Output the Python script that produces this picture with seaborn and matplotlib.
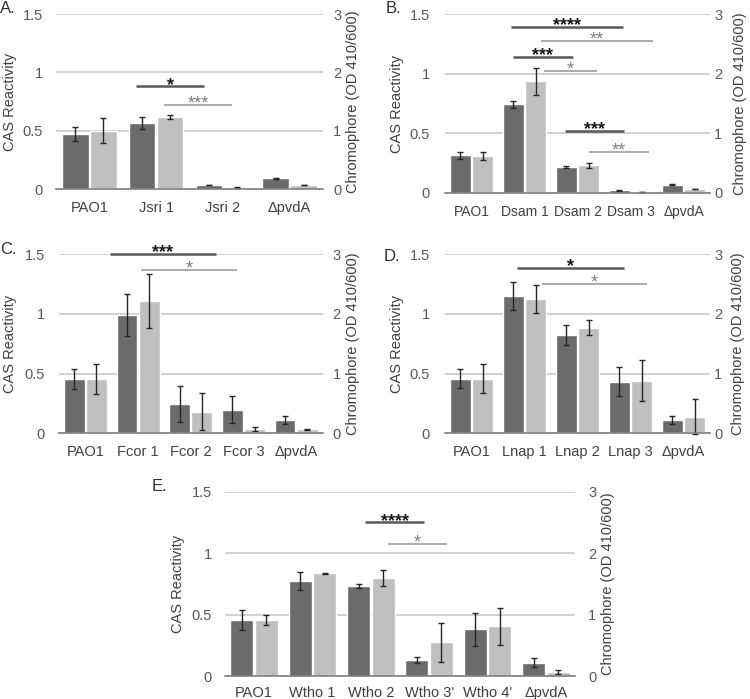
import pandas as pd
import seaborn as sns
import matplotlib.pyplot as plt

# Panel A
strains_a = ['PAO1', 'Jsri 1', 'Jsri 2', 'ΔpvdA']
cas_a = [0.471, 0.566, 0.037, 0.094]
cas_err_a = [0.060, 0.054, 0.004, 0.004]
chrom_a = [1.00, 1.24, 0.034, 0.074]
chrom_err_a = [0.215, 0.04, 0.01, 0.006]

# Panel B
strains_b = ['PAO1', 'Dsam 1', 'Dsam 2', 'Dsam 3', 'ΔpvdA']
cas_b = [0.314, 0.745, 0.216, 0.020, 0.067]
cas_err_b = [0.027, 0.030, 0.011, 0.003, 0.003]
chrom_b = [0.622, 1.87, 0.465, 0.011, 0.062]
chrom_err_b = [0.07, 0.22, 0.042, 0.002, 0.006]

# Panel C
strains_c = ['PAO1', 'Fcor 1', 'Fcor 2', 'Fcor 3', 'ΔpvdA']
cas_c = [0.456, 0.993, 0.246, 0.199, 0.109]
cas_err_c = [0.081, 0.176, 0.151, 0.112, 0.034]
chrom_c = [0.912, 2.22, 0.364, 0.078, 0.067]
chrom_err_c = [0.25, 0.456, 0.314, 0.034, 0.004]

# Panel D
strains_d = ['PAO1', 'Lnap 1', 'Lnap 2', 'Lnap 3', 'ΔpvdA']
cas_d = [0.459, 1.150, 0.825, 0.434, 0.112]
cas_err_d = [0.081, 0.120, 0.084, 0.123, 0.034]
chrom_d = [0.917, 2.249, 1.773, 0.884, 0.28]
chrom_err_d = [0.246, 0.232, 0.118, 0.347, 0.29]

# Panel E
strains_e = ['PAO1', 'Wtho 1', 'Wtho 2', "Wtho 3'", "Wtho 4'", 'ΔpvdA']
cas_e = [0.456, 0.770, 0.735, 0.130, 0.380, 0.108]
cas_err_e = [0.080, 0.073, 0.017, 0.022, 0.134, 0.038]
chrom_e = [0.911, 1.671, 1.589, 0.548, 0.808, 0.065]
chrom_err_e = [0.076, 0.01, 0.13, 0.32, 0.298, 0.03]

# significance bars: (series, x start, x end, y in that series' units, stars)
sig_a = [('cas', 0.705, 1.714, 0.88, '*'), ('chrom', 1.125, 2.134, 1.446, '***')]
sig_b = [('cas', 0.745, 2.853, 1.395, '****'), ('chrom', 1.306, 3.419, 2.55, '**'),
         ('cas', 0.777, 1.909, 1.143, '***'), ('chrom', 1.368, 2.362, 2.045, '*'),
         ('cas', 1.764, 2.877, 0.518, '***'), ('chrom', 2.217, 3.343, 0.689, '**')]
sig_c = [('cas', 0.469, 2.474, 1.505, '***'), ('chrom', 1.057, 2.873, 2.736, '*')]
sig_d = [('cas', 0.864, 2.883, 1.385, '*'), ('chrom', 1.330, 3.317, 2.50, '*')]
sig_e = [('cas', 1.908, 2.906, 1.25, '****'), ('chrom', 2.30, 3.305, 2.143, '*')]

# right axis (chromophore) spans 0-3 while the left one spans 0-1.5
CHROM_SCALE = 2.0

sns.set_style('white')
plt.rcParams['font.family'] = ['Liberation Sans', 'DejaVu Sans']

W, H = 750, 699
hue_order = ['CAS', 'Chromophore']
palette = {'CAS': '#6b6b6b', 'Chromophore': '#bfbfbf'}
line_col = {'cas': '#595959', 'chrom': '#a6a6a6'}
star_col = {'cas': '#1a1a1a', 'chrom': '#808080'}
text_col = '#595959'

fig = plt.figure(figsize=(W / 100, H / 100), dpi=100)


def draw_panel(px, letter, letter_pos, strains, cas, cas_err, chrom, chrom_err, sigs,
               lab_x, pads, xsize=10.5):
    left, top, right, bottom = px
    ax = fig.add_axes([left / W, 1 - bottom / H, (right - left) / W, (bottom - top) / H])

    df = pd.DataFrame({
        'strain': strains * 2,
        'value': list(cas) + [v / CHROM_SCALE for v in chrom],
        'series': ['CAS'] * len(strains) + ['Chromophore'] * len(strains),
    })
    sns.barplot(data=df, x='strain', y='value', hue='series', order=strains,
                hue_order=hue_order, palette=palette, width=0.84, gap=0.06,
                saturation=1, errorbar=None, legend=False, ax=ax)

    errs = [list(cas_err), [e / CHROM_SCALE for e in chrom_err]]
    for bars, err in zip(ax.containers[:2], errs):
        xs = [b.get_x() + b.get_width() / 2 for b in bars]
        hs = [b.get_height() for b in bars]
        ax.errorbar(xs, hs, yerr=err, fmt='none', ecolor='#262626', elinewidth=1,
                    capsize=2, capthick=1, clip_on=False)

    ax.set_ylim(0, 1.5)
    ax.set_xlim(-0.5, len(strains) - 0.5)
    ax.set_yticks([0, 0.5, 1, 1.5], ['0', '0.5', '1', '1.5'])
    ax.yaxis.grid(True, color='#c9c9c9', lw=1.2)
    ax.set_axisbelow(True)

    sec = ax.secondary_yaxis('right', functions=(lambda y: y * CHROM_SCALE,
                                                 lambda y: y / CHROM_SCALE))
    sec.set_yticks([0, 1, 2, 3], ['0', '1', '2', '3'])

    for s in ax.spines.values():
        s.set_visible(False)
    for s in sec.spines.values():
        s.set_visible(False)
    ax.spines['bottom'].set_visible(True)
    ax.spines['bottom'].set_color('#7f7f7f')
    ax.spines['bottom'].set_linewidth(1.2)

    ax.tick_params(axis='y', length=0, pad=pads[0], labelsize=10.5, labelcolor=text_col)
    sec.tick_params(axis='y', length=0, pad=pads[1], labelsize=10.5, labelcolor=text_col)
    ax.tick_params(axis='x', length=0, pad=pads[2], labelsize=xsize, labelcolor='#404040')

    ax.set_xlabel('')
    ax.set_ylabel('CAS Reactivity', fontsize=10.5, color='#404040')
    sec.set_ylabel('Chromophore (OD 410/600)', fontsize=10.5, color='#404040')
    for lab in (ax.yaxis.label, sec.yaxis.label):
        lab.set_rotation(90)
        lab.set_va('center')
        lab.set_ha('center')
    ax.yaxis.set_label_coords(lab_x[0], 0.5, transform=ax.transAxes)
    sec.yaxis.set_label_coords(lab_x[1], 0.5, transform=ax.transAxes)

    for series, x0, x1, y, stars in sigs:
        yy = y if series == 'cas' else y / CHROM_SCALE
        ax.plot([x0, x1], [yy, yy], color=line_col[series],
                lw=1.8 if series == 'cas' else 1.3, clip_on=False, solid_capstyle='butt')
        ax.annotate(stars, ((x0 + x1) / 2, yy), xytext=(0, -2.5),
                    textcoords='offset points', ha='center', va='baseline',
                    fontsize=13, color=star_col[series], annotation_clip=False,
                    fontweight='bold' if series == 'cas' else 'normal')

    fig.text(letter_pos[0] / W, 1 - letter_pos[1] / H, letter, fontsize=12,
             ha='left', va='top', color='#303030')


draw_panel((56, 14, 323, 189.3), 'A.', (0, 1), strains_a, cas_a, cas_err_a,
           chrom_a, chrom_err_a, sig_a, (-0.172, 1.112), (9.4, 7.2, 8.5))
draw_panel((445, 14.3, 710, 192.7), 'B.', (386, 1), strains_b, cas_b, cas_err_b,
           chrom_b, chrom_err_b, sig_b, (-0.182, 1.113), (10.8, 2.9, 8.5), xsize=10)
draw_panel((59, 254.3, 322.5, 433.3), 'C.', (0, 242), strains_c, cas_c, cas_err_c,
           chrom_c, chrom_err_c, sig_c, (-0.186, 1.116), (10, 7.2, 8.5))
draw_panel((445, 254.3, 710, 433.3), 'D.', (384, 249), strains_d, cas_d, cas_err_d,
           chrom_d, chrom_err_d, sig_d, (-0.182, 1.106), (10.8, 2.9, 8.5))
draw_panel((225, 491.7, 575, 676), 'E.', (152, 479), strains_e, cas_e, cas_err_e,
           chrom_e, chrom_err_e, sig_e, (-0.134, 1.095), (9.6, 9.5, 7.5))

fig.savefig('out.png', dpi=100)
